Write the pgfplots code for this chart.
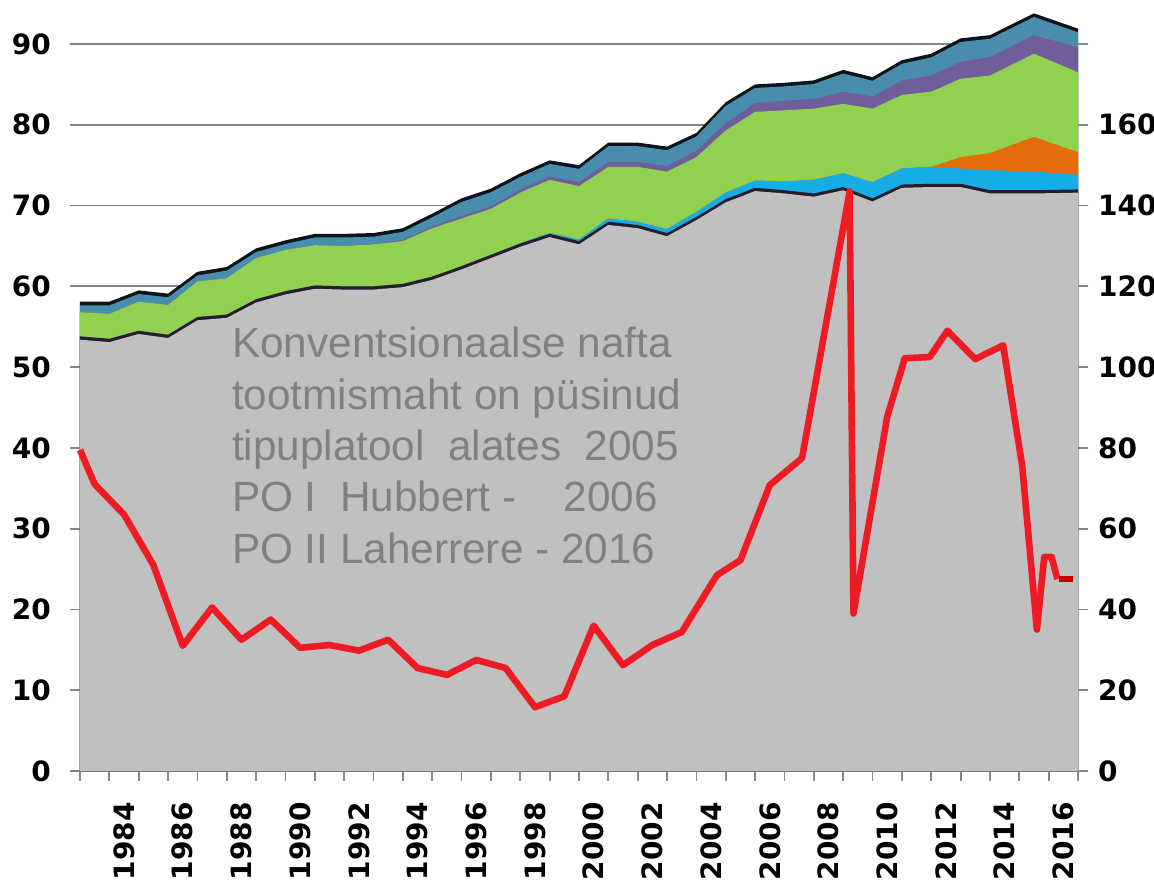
\documentclass[border=0pt]{standalone}
\usepackage{pgfplots}
\usepackage{pgfplotstable}
\pgfplotsset{compat=1.18}
\usepackage{fontspec}
\setmainfont{Liberation Sans}
\newfontfamily\tickfont{DejaVu Sans}
\definecolor{cgrey}{RGB}{192,192,192}
\definecolor{cdark}{RGB}{38,28,44}
\definecolor{ccyan}{RGB}{22,172,230}
\definecolor{corange}{RGB}{228,108,10}
\definecolor{cgreen}{RGB}{146,208,80}
\definecolor{cpurple}{RGB}{112,94,154}
\definecolor{csteel}{RGB}{72,142,172}
\definecolor{ctop}{RGB}{12,20,26}
\definecolor{cred}{RGB}{237,28,36}
\definecolor{cdred}{RGB}{192,0,0}
\definecolor{cgridc}{RGB}{134,134,134}
\definecolor{ctext}{RGB}{128,128,128}

\pgfplotstableread{
t G D C O Gr P S T
1982.5 53.4 53.8 53.8 53.8 56.8 56.8 57.65 58.1
1983.5 53.1 53.5 53.5 53.5 56.6 56.6 57.65 58.1
1984.5 54.1 54.5 54.5 54.5 58.1 58.1 59.05 59.5
1985.5 53.6 54.0 54.0 54.0 57.7 57.7 58.65 59.1
1986.5 55.8 56.2 56.2 56.2 60.6 60.6 61.35 61.8
1987.5 56.1 56.5 56.5 56.5 61.0 61.0 61.95 62.4
1988.5 58.0 58.4 58.4 58.4 63.5 63.5 64.25 64.7
1989.5 59.0 59.4 59.4 59.4 64.5 64.5 65.25 65.7
1990.5 59.7 60.1 60.1 60.1 65.1 65.1 66.05 66.5
1991.5 59.6 60.0 60.0 60.0 65.0 65.0 66.05 66.5
1992.5 59.6 60.0 60.0 60.0 65.2 65.25 66.15 66.6
1993.5 59.9 60.3 60.3 60.3 65.6 65.75 66.75 67.2
1994.5 60.8 61.2 61.2 61.2 67.2 67.4 68.55 69.0
1995.5 62.1 62.5 62.5 62.5 68.4 68.7 70.45 70.9
1996.5 63.5 63.9 63.9 63.9 69.6 69.9 71.65 72.1
1997.5 64.9 65.3 65.35 65.35 71.6 72.0 73.55 74.0
1998.5 66.1 66.5 66.6 66.6 73.2 73.6 75.15 75.6
1999.5 65.2 65.6 65.8 65.8 72.4 72.9 74.55 75.0
2000.5 67.6 68.0 68.4 68.4 74.8 75.4 77.35 77.8
2001.5 67.2 67.6 68.0 68.0 74.8 75.4 77.35 77.8
2002.5 66.2 66.6 67.1 67.1 74.2 74.9 76.85 77.3
2003.5 68.2 68.6 69.2 69.2 76.0 76.8 78.55 79.0
2004.5 70.4 70.8 71.6 71.6 79.3 80.2 82.35 82.8
2005.5 71.8 72.2 73.1 73.1 81.6 82.7 84.55 85.0
2006.5 71.5 71.9 73.0 73.0 81.8 83.0 84.75 85.2
2007.5 71.1 71.5 73.2 73.2 82.0 83.2 85.05 85.5
2008.5 71.9 72.3 74.0 74.0 82.6 84.1 86.35 86.8
2009.5 70.5 70.9 72.9 72.9 82.0 83.5 85.45 85.9
2010.5 72.2 72.6 74.6 74.6 83.7 85.5 87.55 88.0
2011.5 72.3 72.7 74.8 74.8 84.1 86.1 88.35 88.8
2012.5 72.3 72.7 74.6 76.0 85.7 87.8 90.25 90.7
2013.5 71.5 71.9 74.4 76.5 86.1 88.4 90.65 91.1
2015.0 71.5 71.9 74.2 78.5 88.8 91.1 93.35 93.8
2016.5 71.6 72.0 73.8 76.6 86.5 89.6 91.45 91.9
}\area

\pgfplotstableread{
t v
1982.5 79.5
1983 71
1984 63.5
1985 51
1986 31
1987 40.5
1988 32.5
1989 37.5
1990 30.5
1991 31.2
1992 29.8
1993 32.5
1994 25.5
1995 23.8
1996 27.5
1997 25.5
1998 15.8
1999 18.5
2000 36
2001 26.2
2002 31.2
2003 34.4
2004.2 48.5
2005 52.2
2006 70.8
2007.1 77.5
2008.72 143.5
2008.85 39
2010.0 87.7
2010.6 102.2
2011.45 102.5
2012.05 109
2013.0 102
2013.95 105.4
2014.6 75.5
2015.1 35
2015.35 53
2015.6 53
2015.8 47.5
}\price

\pgfplotstableread{
t v
2015.85 47.5
2016.33 47.5
}\lastprice

\begin{document}
\begin{tikzpicture}
\useasboundingbox (-40pt,-54pt) rectangle (537pt,385.5pt);
\begin{axis}[
  at={(0,0)}, anchor=south west, scale only axis,
  width=499pt, height=385.5pt,
  xmin=1982.5, xmax=2016.5, ymin=0, ymax=95.45,
  axis x line*=bottom, axis y line*=left,
  x axis line style={draw=cgridc, line width=0.9pt},
  y axis line style={draw=none},
  xtick={1982.5,1983.5,...,2016.5}, xticklabels={},
  ytick={0,10,...,90},
  tick align=outside, major tick length=5pt,
  tick style={draw=cgridc, line width=0.9pt},
  ymajorgrids, grid style={draw=cgridc, line width=0.9pt},
  tick label style={font=\tickfont\bfseries\fontsize{14}{14}\selectfont, text=black},
  /pgf/number format/assume math mode=true,
  yticklabel style={xshift=-6pt},
  clip=false,
]
\addplot[fill=ctop, draw=none] table[x=t, y=T]{\area} \closedcycle;
\addplot[fill=csteel, draw=none] table[x=t, y=S]{\area} \closedcycle;
\addplot[fill=cpurple, draw=none] table[x=t, y=P]{\area} \closedcycle;
\addplot[fill=cgreen, draw=none] table[x=t, y=Gr]{\area} \closedcycle;
\addplot[fill=corange, draw=none] table[x=t, y=O]{\area} \closedcycle;
\addplot[fill=ccyan, draw=none] table[x=t, y=C]{\area} \closedcycle;
\addplot[fill=cdark, draw=none] table[x=t, y=D]{\area} \closedcycle;
\addplot[fill=cgrey, draw=none] table[x=t, y=G]{\area} \closedcycle;
\node[anchor=north west, align=left, inner sep=0pt, text=ctext,
      font=\fontsize{21.15}{25.65}\selectfont]
  at (rel axis cs:0.152,0.576)
  {Konventsionaalse nafta\\tootmismaht on püsinud\\tipuplatool~ alates~ 2005\\PO I~ Hubbert -~~~ 2006\\PO II Laherrere - 2016};
\end{axis}
\begin{axis}[
  at={(0,0)}, anchor=south west, scale only axis,
  width=499pt, height=385.5pt,
  xmin=1982.5, xmax=2016.5, ymin=0, ymax=190.9,
  axis x line*=bottom, axis y line*=right,
  x axis line style={draw=none}, y axis line style={draw=none},
  xtick={1984,1986,...,2016}, xtick style={draw=none},
  ytick={0,20,...,180}, yticklabels={0,20,40,60,80,100,120,140,160,{}},
  tick align=outside, major tick length=5pt,
  ytick style={draw=cgridc, line width=0.9pt},
  tick label style={font=\tickfont\bfseries\fontsize{14}{14}\selectfont, text=black},
  /pgf/number format/assume math mode=true,
  /pgf/number format/1000 sep={},
  xticklabel style={rotate=90, anchor=east},
  xticklabel shift=7pt,
  yticklabel style={xshift=1.5pt},
  clip=false,
]
\addplot[color=cred, line width=3.3pt, line join=round] table[x=t, y=v]{\price};
\addplot[color=cdred, line width=3pt] table[x=t, y=v]{\lastprice};
\end{axis}
\end{tikzpicture}
\end{document}
